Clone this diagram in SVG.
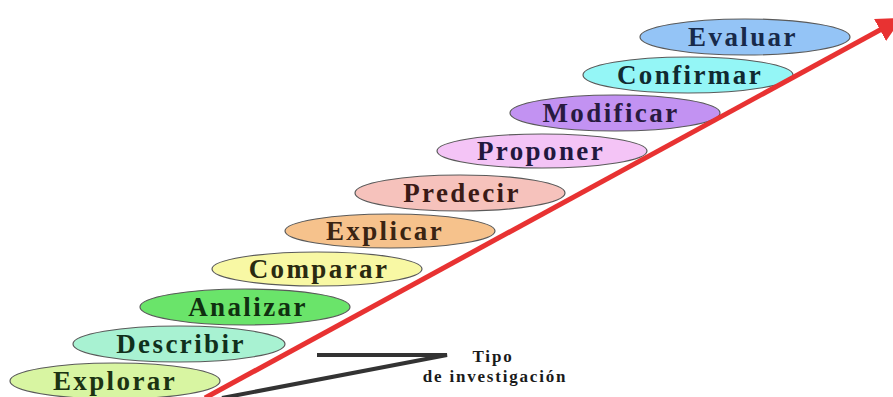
<svg xmlns="http://www.w3.org/2000/svg" width="893" height="397" viewBox="0 0 893 397">
  <style>
    .step ellipse { stroke: #5a5a5a; stroke-width: 1.2; }
    .step text { font-family: "Liberation Serif", "Times New Roman", serif; font-weight: bold; font-size: 27px; letter-spacing: 2.4px; text-anchor: middle; }
    .label { font-family: "Liberation Serif", "Times New Roman", serif; font-weight: bold; font-size: 17px; letter-spacing: 1.8px; text-anchor: middle; fill: #1a1a1a; }
  </style>
  <defs>
    <marker id="redHead" viewBox="0 0 10 10" refX="10" refY="5" markerWidth="5" markerHeight="5" orient="auto" markerUnits="strokeWidth">
      <path d="M0,0 L10,5 L0,10 Z" fill="#e83232"/>
    </marker>
  </defs>
  <rect width="893" height="397" fill="#ffffff"/>

  <!-- stair of steps, bottom to top -->
  <g id="explorar" class="step">
    <ellipse cx="115" cy="381" rx="105" ry="18" fill="#d8f5a2"/>
    <text x="115" y="390" fill="#1c3312">Explorar</text>
  </g>
  <g id="describir" class="step">
    <ellipse cx="179" cy="344" rx="106" ry="18" fill="#a8f2d2"/>
    <text x="181" y="353" fill="#10301c">Describir</text>
  </g>
  <g id="analizar" class="step">
    <ellipse cx="245" cy="307" rx="105" ry="18" fill="#6ae46a"/>
    <text x="248" y="316" fill="#103010">Analizar</text>
  </g>
  <g id="comparar" class="step">
    <ellipse cx="317" cy="269" rx="105" ry="17" fill="#f8f8a4"/>
    <text x="319" y="278" fill="#2a2a10">Comparar</text>
  </g>
  <g id="explicar" class="step">
    <ellipse cx="390" cy="231" rx="105" ry="17" fill="#f6c28c"/>
    <text x="385" y="240" fill="#3a2412">Explicar</text>
  </g>
  <g id="predecir" class="step">
    <ellipse cx="460" cy="193" rx="105" ry="18" fill="#f6c2bc"/>
    <text x="462" y="202" fill="#3a1a16">Predecir</text>
  </g>
  <g id="proponer" class="step">
    <ellipse cx="542" cy="151" rx="105" ry="17" fill="#f4c4f6"/>
    <text x="541" y="160" fill="#22183e">Proponer</text>
  </g>
  <g id="modificar" class="step">
    <ellipse cx="615" cy="113" rx="105" ry="18" fill="#c292f2"/>
    <text x="611" y="122" fill="#281a40">Modificar</text>
  </g>
  <g id="confirmar" class="step">
    <ellipse cx="688" cy="75" rx="105" ry="18" fill="#94f6f6"/>
    <text x="690" y="84" fill="#102a30">Confirmar</text>
  </g>
  <g id="evaluar" class="step">
    <ellipse cx="745" cy="37" rx="105" ry="18" fill="#94c4f6"/>
    <text x="743" y="46" fill="#182a4a">Evaluar</text>
  </g>

  <!-- rising arrow and label pointer -->
  <g id="connectors">
    <line x1="205" y1="398" x2="902" y2="18" stroke="#e83232" stroke-width="5" marker-end="url(#redHead)"/>
    <polyline points="317,355 447,355 222,398" fill="none" stroke="#333333" stroke-width="4" stroke-linejoin="miter"/>
  </g>

  <g id="tipo-label">
    <text class="label" x="493" y="362">Tipo</text>
    <text class="label" x="495" y="382">de investigación</text>
  </g>
</svg>
